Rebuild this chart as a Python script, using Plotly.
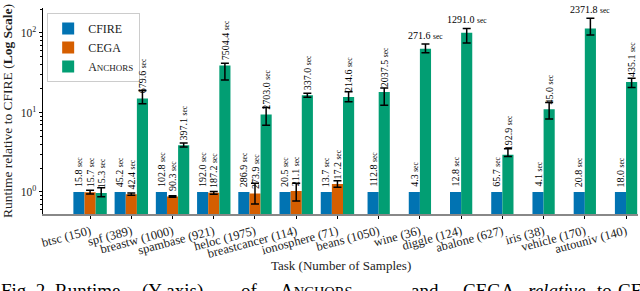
import math
import plotly.graph_objects as go

# ---------------- data ----------------
tasks = ["btsc (150)", "spf (389)", "breastw (1000)", "spambase (921)", "heloc (1975)",
         "breastcancer (114)", "ionosphere (71)", "beans (1050)", "wine (36)", "diggle (124)",
         "abalone (627)", "iris (38)", "vehicle (170)", "autouniv (140)"]

cfire_sec = [15.8, 45.2, 102.8, 192.0, 286.9, 20.5, 13.7, 112.8, 4.3, 12.8, 65.7, 4.1, 20.8, 18.0]
cega_sec = [15.7, 42.4, 90.3, 187.2, 273.9, 21.1, 17.2, None, None, None, None, None, None, None]
anchors_sec = [15.3, 679.6, 397.1, 7504.4, 2703.0, 337.0, 214.6, 2037.5, 271.6, 1291.0,
               192.9, 45.0, 2371.8, 435.1]

# error bars (relative-to-CFIRE units)
cega_err_plus = [0.06, 0.03, 0.02, 0.04, 0.33, 0.26, 0.13, None, None, None, None, None, None, None]
cega_err_minus = [0.05, 0.03, 0.02, 0.04, 0.25, 0.26, 0.11, None, None, None, None, None, None, None]
anchors_err_plus = [0.16, 3.8, 0.27, 2.4, 2.1, 1.0, 2.6, 2.2, 9.4, 13.0, 0.55, 2.4, 39.0, 2.8]
anchors_err_minus = [0.095, 2.2, 0.18, 13.5, 2.5, 0.9, 2.0, 5.7, 6.7, 26.0, 0.15, 2.7, 19.5, 3.5]

# labels drawn horizontally above the error bar (others are vertical)
horizontal_anchor_labels = ["wine (36)", "diggle (124)", "vehicle (170)"]

# figure caption (cut off at the bottom edge in the reference)
caption_words = ["Fig. 2.", "Runtime", "(Y-axis)", "of",
                 "A<span style='font-size:14.5px'>NCHORS</span>", "and", "CEGA",
                 "<i>relative</i>", "to", "CFIRE"]
caption_word_px = [0, 54, 141, 240, 279, 410, 462, 527, 596, 617]

# ---------------- style ----------------
C_BLUE = "#0173B2"
C_ORANGE = "#D55E00"
C_GREEN = "#029E73"
FONT = "Liberation Serif"
W = 0.27
ML, MR, MT, MB = 43, 2, 8, 77
FW, FH = 640, 291

n = len(tasks)
cfire_rel = [1.0 for _ in range(n)]
cega_rel = [(c / f) if c is not None else None for c, f in zip(cega_sec, cfire_sec)]
anch_rel = [a / f for a, f in zip(anchors_sec, cfire_sec)]

x_cf, x_ce, x_an = [], [], []
for i in range(n):
    k = 3 if cega_sec[i] is not None else 2
    start = i - k * W / 2
    x_cf.append(start + W / 2)
    x_ce.append(start + 1.5 * W if k == 3 else None)
    x_an.append(start + (k - 0.5) * W)

ce_idx = [i for i in range(n) if cega_sec[i] is not None]

fig = go.Figure()
fig.add_trace(go.Bar(x=x_cf, y=cfire_rel, width=W, name="CFIRE",
                     marker=dict(color=C_BLUE, line=dict(width=0))))
fig.add_trace(go.Bar(x=[x_ce[i] for i in ce_idx], y=[cega_rel[i] for i in ce_idx], width=W,
                     name="CEGA", marker=dict(color=C_ORANGE, line=dict(width=0)),
                     error_y=dict(type="data", symmetric=False,
                                  array=[cega_err_plus[i] for i in ce_idx],
                                  arrayminus=[cega_err_minus[i] for i in ce_idx],
                                  color="black", thickness=1.5, width=4)))
fig.add_trace(go.Bar(x=x_an, y=anch_rel, width=W,
                     name="A<span style='font-size:9px'>NCHORS</span>",
                     marker=dict(color=C_GREEN, line=dict(width=0)),
                     error_y=dict(type="data", symmetric=False, array=anchors_err_plus,
                                  arrayminus=anchors_err_minus,
                                  color="black", thickness=1.5, width=4)))

LBL = dict(size=10, family=FONT, color="black")


def lab(v):
    return f"{v:.1f} <span style='font-size:7.5px'>sec</span>"


ann = []
for i in range(n):
    ann.append(dict(x=x_cf[i], y=math.log10(cfire_rel[i]), text=lab(cfire_sec[i]), textangle=-90,
                    xanchor="center", yanchor="bottom", yshift=3, showarrow=False, font=LBL))
    if cega_sec[i] is not None:
        ann.append(dict(x=x_ce[i], y=math.log10(cega_rel[i]), text=lab(cega_sec[i]), textangle=-90,
                        xanchor="center", yanchor="bottom", yshift=3, showarrow=False, font=LBL))
    if tasks[i] in horizontal_anchor_labels:
        ann.append(dict(x=x_an[i], y=math.log10(anch_rel[i] + anchors_err_plus[i]),
                        text=lab(anchors_sec[i]), xanchor="center", yanchor="bottom", yshift=1,
                        showarrow=False, font=LBL))
    else:
        ann.append(dict(x=x_an[i], y=math.log10(anch_rel[i]), text=lab(anchors_sec[i]), textangle=-90,
                        xanchor="center", yanchor="bottom", yshift=3, showarrow=False, font=LBL))

# x-axis title
ann.append(dict(xref="paper", yref="paper", x=0.5, y=-0.205, xanchor="center", yanchor="top",
                text="Task (Number of Samples)", showarrow=False,
                font=dict(size=13, family=FONT, color="#222")))

# caption words (paper coords derived from pixel positions)
pw = FW - ML - MR
ph = FH - MT - MB
for wtxt, px in zip(caption_words, caption_word_px):
    ann.append(dict(xref="paper", yref="paper", x=(px - ML) / pw, y=-(279 - (FH - MB)) / ph,
                    xanchor="left", yanchor="top", text=wtxt, showarrow=False, borderpad=0,
                    font=dict(size=19, family=FONT, color="black")))

minor_vals = [0.6, 0.7, 0.8, 0.9] + list(range(2, 10)) + [v * 10 for v in range(2, 10)] + [200]

fig.update_layout(
    width=FW, height=FH,
    margin=dict(l=ML, r=MR, t=MT, b=MB, autoexpand=False),
    paper_bgcolor="white", plot_bgcolor="white",
    barmode="overlay",
    font=dict(family=FONT, color="#222", size=11),
    showlegend=True,
    legend=dict(x=0.007, y=0.976, xanchor="left", yanchor="top",
                bordercolor="#cccccc", borderwidth=1, bgcolor="rgba(255,255,255,0.8)",
                font=dict(size=12, family=FONT, color="#222"), tracegroupgap=0,
                itemsizing="constant"),
    annotations=ann,
    xaxis=dict(range=[-1.142, 13.29], tickmode="array", tickvals=list(range(n)), ticktext=tasks,
               tickangle=-15, ticks="outside", ticklen=3.5, tickwidth=0.8, tickcolor="black",
               showline=True, linecolor="#888888", linewidth=1.6, showgrid=False, zeroline=False,
               tickfont=dict(size=12.5, family=FONT, color="#222"), automargin=False),
    yaxis=dict(type="log", range=[-0.277, 2.314], tickmode="array", tickvals=[1, 10, 100],
               ticktext=["10<sup>0</sup>", "10<sup>1</sup>", "10<sup>2</sup>"],
               ticks="outside", ticklen=3.5, tickwidth=0.8, tickcolor="black",
               minor=dict(tickmode="array", tickvals=minor_vals, ticks="outside", ticklen=2,
                          tickwidth=0.6, tickcolor="black"),
               showline=True, linecolor="black", linewidth=0.8, showgrid=False, zeroline=False,
               tickfont=dict(size=11.5, family=FONT, color="#222"), automargin=False,
               title=dict(text="Runtime relative to CFIRE (<b>Log Scale</b>)", standoff=5,
                          font=dict(size=13.5, family=FONT, color="#222"))),
)

fig.write_html("out.html", config={"displayModeBar": False},
               post_script="document.body.style.margin='0px';")
